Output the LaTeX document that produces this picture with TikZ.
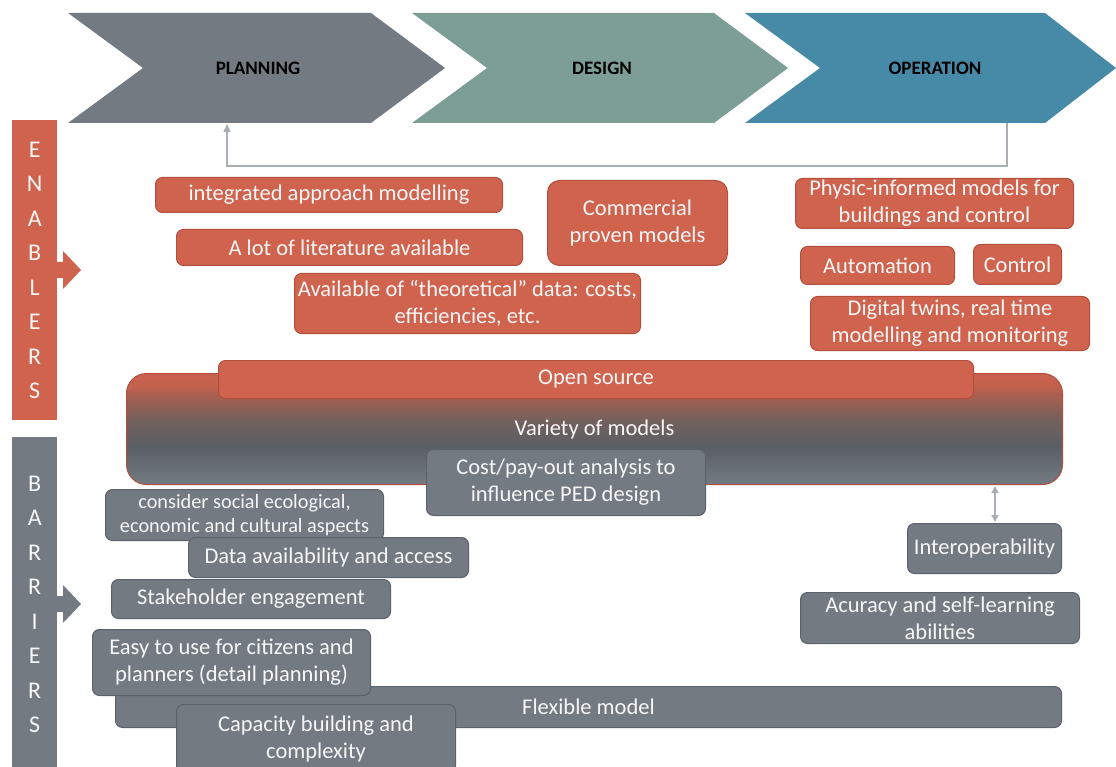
\documentclass[tikz,border=0pt]{standalone}
\usepackage{fontspec}
\setmainfont{Carlito}
\usetikzlibrary{arrows.meta,calc}
\definecolor{cred}{HTML}{CF634E}
\definecolor{credd}{HTML}{B24E3B}
\definecolor{cgray}{HTML}{737A82}
\definecolor{cgrayd}{HTML}{5C6269}
\definecolor{cplan}{HTML}{747A82}
\definecolor{cdes}{HTML}{7C9E95}
\definecolor{cop}{HTML}{468AA7}
\definecolor{cline}{HTML}{A8AEB3}
\definecolor{ctxt}{HTML}{F6F6F6}
\definecolor{gA}{HTML}{737A81}
\definecolor{gB}{HTML}{656B71}
\definecolor{gC}{HTML}{5A5F65}
\definecolor{gD}{HTML}{74605C}
\definecolor{gE}{HTML}{9C6051}
\definecolor{gF}{HTML}{C2614D}
\definecolor{gG}{HTML}{CA624E}
\pgfdeclareverticalshading{bigshade}{100bp}{color(0bp)=(gA); color(25bp)=(gA); color(35bp)=(gB); color(42bp)=(gC); color(54bp)=(gD); color(63bp)=(gE); color(69.5bp)=(gF); color(75bp)=(gG); color(100bp)=(gG)}
\tikzset{
  x=1pt, y=-1pt,
  box/.style={rounded corners=7pt, text=ctxt, align=center, inner sep=0pt,
    font=\fontsize{22.5}{27}\selectfont, line width=1pt, anchor=north west},
  redbox/.style={box, fill=cred, draw=credd},
  graybox/.style={box, fill=cgray, draw=cgrayd},
  smalltext/.style={font=\fontsize{20.3}{24}\selectfont},
  chevlabel/.style={font=\fontsize{19}{22}\selectfont\bfseries, text=black},
  sidebar/.style={anchor=north west, minimum width=45pt, inner sep=0pt, align=center,
    text=ctxt, font=\fontsize{24}{34.5}\selectfont},
  fbline/.style={draw=cline, line width=1.3pt},
}
\begin{document}
\begin{tikzpicture}
\useasboundingbox (0,0) rectangle (1116,767);
\fill[white] (0,0) rectangle (1116,767);
% chevrons
\fill[cplan] (68,13) -- (371,13) -- (445,68) -- (371,123) -- (68,123) -- (143,68) -- cycle;
\fill[cdes] (412,13) -- (714,13) -- (788,68) -- (714,123) -- (412,123) -- (487,68) -- cycle;
\fill[cop] (745,13) -- (1045,13) -- (1116,68) -- (1045,123) -- (745,123) -- (820,68) -- cycle;
\node[chevlabel] (plan) at (258,68) {PLANNING};
\node[chevlabel] (des) at (602,68) {DESIGN};
\node[chevlabel] (oper) at (935,68) {OPERATION};
\coordinate (opb) at (1007,123);
\coordinate (plb) at (227,124);
\draw[fbline, -{Triangle[width=7pt,length=8pt]}] (opb) -- ++(0,43) -| (plb);
% side bars
\node[sidebar, fill=cred, minimum height=300pt] (enb) at (12,120) {E\\N\\A\\B\\L\\E\\R\\S};
\fill[cred] (57,262) -- (63,262) -- (63,251) -- (81,270) -- (63,289) -- (63,278) -- (57,278) -- cycle;
\node[sidebar, fill=cgray, minimum height=334pt] (bab) at (12,437) {B\\A\\R\\R\\I\\E\\R\\S};
\fill[cgray] (57,596) -- (63,596) -- (63,585) -- (81,604) -- (63,623) -- (63,612) -- (57,612) -- cycle;
% enablers
\node[redbox, minimum width=347pt, minimum height=35pt] (e1) at (155,177) {integrated approach modelling};
\node[redbox, minimum width=346pt, minimum height=36pt] (e2) at (176,229) {A lot of literature available};
\node[redbox, minimum width=346pt, minimum height=60pt] (e3) at (294,273) {Available of ``theoretical'' data: costs,\\efficiencies, etc.};
\node[redbox, rounded corners=12pt, minimum width=180pt, minimum height=85pt] (e4) at (547,180) {Commercial\\proven models};
\node[redbox, minimum width=278pt, minimum height=50pt] (e5) at (795,178) {Physic-informed models for\\buildings and control};
\node[redbox, minimum width=154pt, minimum height=38pt] (e6) at (800,246) {Automation};
\node[redbox, minimum width=88pt, minimum height=40pt] (e7) at (973,244) {Control};
\node[redbox, minimum width=279pt, minimum height=54pt] (e8) at (810,296) {Digital twins, real time\\modelling and monitoring};
% big box
\node[anchor=north west, rounded corners=20pt, draw=credd, line width=1pt,
  shading=bigshade, minimum width=936pt, minimum height=111pt, inner sep=0pt, text=ctxt,
  font=\fontsize{22.5}{27}\selectfont] (big) at (126,373) {Variety of models};
\node[redbox, minimum width=755pt, minimum height=38pt] (open) at (218,360) {Open source};
\node[graybox, minimum width=279pt, minimum height=66pt] (cost) at (426,449) {Cost/pay-out analysis to\\influence PED design};
% barriers
\node[graybox, smalltext, minimum width=278pt, minimum height=51pt] (b1) at (105,489) {consider social ecological,\\economic and cultural aspects};
\node[graybox, minimum width=280pt, minimum height=40pt] (b2) at (188,537) {Data availability and access};
\node[graybox, minimum width=279pt, minimum height=39pt] (b3) at (111,579) {Stakeholder engagement};
\node[graybox, minimum width=946pt, minimum height=41pt] (b6) at (115,686) {Flexible model};
\node[graybox, minimum width=278pt, minimum height=66pt] (b4) at (92,629) {Easy to use for citizens and\\planners (detail planning)};
\node[graybox, minimum width=279pt, minimum height=68pt] (b5) at (176,704) {Capacity building and\\complexity};
\node[graybox, minimum width=154pt, minimum height=50pt] (b7) at (907,523) {Interoperability};
\node[graybox, minimum width=279pt, minimum height=51pt] (b8) at (800,592) {Acuracy and self-learning\\abilities};
\coordinate (da) at (995,486);
\coordinate (db) at (995,522);
\draw[fbline, {Triangle[width=7pt,length=7pt]}-{Triangle[width=7pt,length=7pt]}] (da) -- (db);
\end{tikzpicture}
\end{document}
